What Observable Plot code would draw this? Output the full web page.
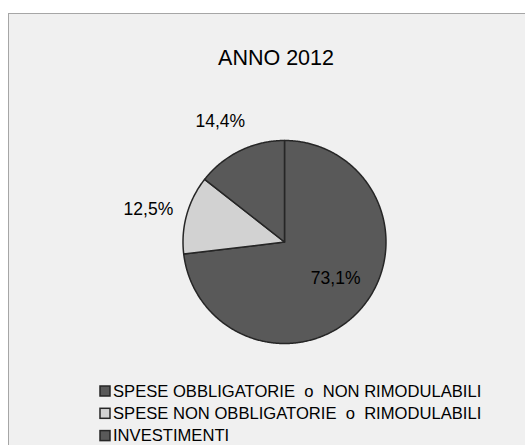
<!DOCTYPE html>
<html>
<head>
<meta charset="utf-8">
<script src="https://cdn.jsdelivr.net/npm/d3@7"></script>
<script src="https://cdn.jsdelivr.net/npm/@observablehq/plot@0.6"></script>
<style>
  html, body { margin: 0; padding: 0; background: #ffffff; overflow: hidden; }
  #panel { position: absolute; left: 8px; top: 13px; width: 600px; height: 500px;
           background: #f0f0f0; border: 1px solid #a6a6a6; box-sizing: border-box; }
  #chart { position: absolute; left: 0; top: 0; }
  #chart svg { background: transparent; }
</style>
</head>
<body>
<div id="panel"></div>
<div id="chart"></div>
<script>
// ---- data ----
const title = "ANNO 2012";
const categories = [
  "SPESE OBBLIGATORIE  o  NON RIMODULABILI",
  "SPESE NON OBBLIGATORIE  o  RIMODULABILI",
  "INVESTIMENTI"
];
const values = [73.1, 12.5, 14.4];
const labels = ["73,1%", "12,5%", "14,4%"];
const colors = ["#595959", "#d2d2d2", "#595959"];

// ---- layout ----
const W = 525, H = 445;
const cx = 284, cy = 241.5, R = 101.5;
const labelRadius = [0.62, 1.38, 1.35];
const labelAngleShift = [-6, -2, -2]; // degrees

const arcs = d3.pie().sort(null).startAngle(0).endAngle(2 * Math.PI)(values);
const pt = (a, r) => [cx + r * Math.sin(a), cy - r * Math.cos(a)];

const slicePts = [];
arcs.forEach((a, i) => {
  slicePts.push({k: i, x: cx, y: cy});
  const n = Math.max(2, Math.ceil((a.endAngle - a.startAngle) / (Math.PI / 360)));
  for (let j = 0; j <= n; j++) {
    const ang = a.startAngle + (a.endAngle - a.startAngle) * j / n;
    const [x, y] = pt(ang, R);
    slicePts.push({k: i, x, y});
  }
  slicePts.push({k: i, x: cx, y: cy});
});

const labelData = arcs.map((a, i) => {
  const mid = (a.startAngle + a.endAngle) / 2 + labelAngleShift[i] * Math.PI / 180;
  const [x, y] = pt(mid, R * labelRadius[i]);
  return {x, y, t: labels[i]};
});

const legendX = 100, legendY0 = 391, legendStep = 22.3, sq = 10;
const legendData = categories.map((c, i) => ({c, i, col: colors[i], y: legendY0 + i * legendStep}));

const plot = Plot.plot({
  width: W, height: H,
  margin: 0,
  style: {background: "transparent", fontFamily: "Arial, 'Liberation Sans', sans-serif"},
  x: {domain: [0, W], range: [0, W], axis: null},
  y: {domain: [0, H], range: [0, H], axis: null},
  marks: [
    Plot.line(slicePts, {
      x: "x", y: "y", z: "k",
      fill: d => colors[d.k],
      stroke: "#262626", strokeWidth: 1.5, strokeLinejoin: "round", curve: "linear"
    }),
    Plot.text(labelData, {
      x: "x", y: "y", text: "t", fontSize: 17.5, fill: "#000", lineAnchor: "middle", textAnchor: "middle"
    }),
    Plot.text([title], {
      x: () => 275.5, y: () => 57.5, text: d => d, fontSize: 21.5, fill: "#000", lineAnchor: "middle"
    }),
    Plot.rect(legendData, {
      x1: () => legendX, x2: () => legendX + sq,
      y1: d => d.y - sq / 2, y2: d => d.y + sq / 2,
      fill: "col", stroke: "#262626", strokeWidth: 1.5
    }),
    Plot.text(legendData, {
      x: () => legendX + sq + 2.5, y: "y", text: "c", textAnchor: "start", lineAnchor: "middle",
      fontSize: 16.6, fill: "#000"
    })
  ]
});
plot.querySelectorAll("text").forEach(t => { t.setAttribute("xml:space", "preserve"); t.style.whiteSpace = "pre"; });
document.getElementById("chart").appendChild(plot);
</script>
</body>
</html>
